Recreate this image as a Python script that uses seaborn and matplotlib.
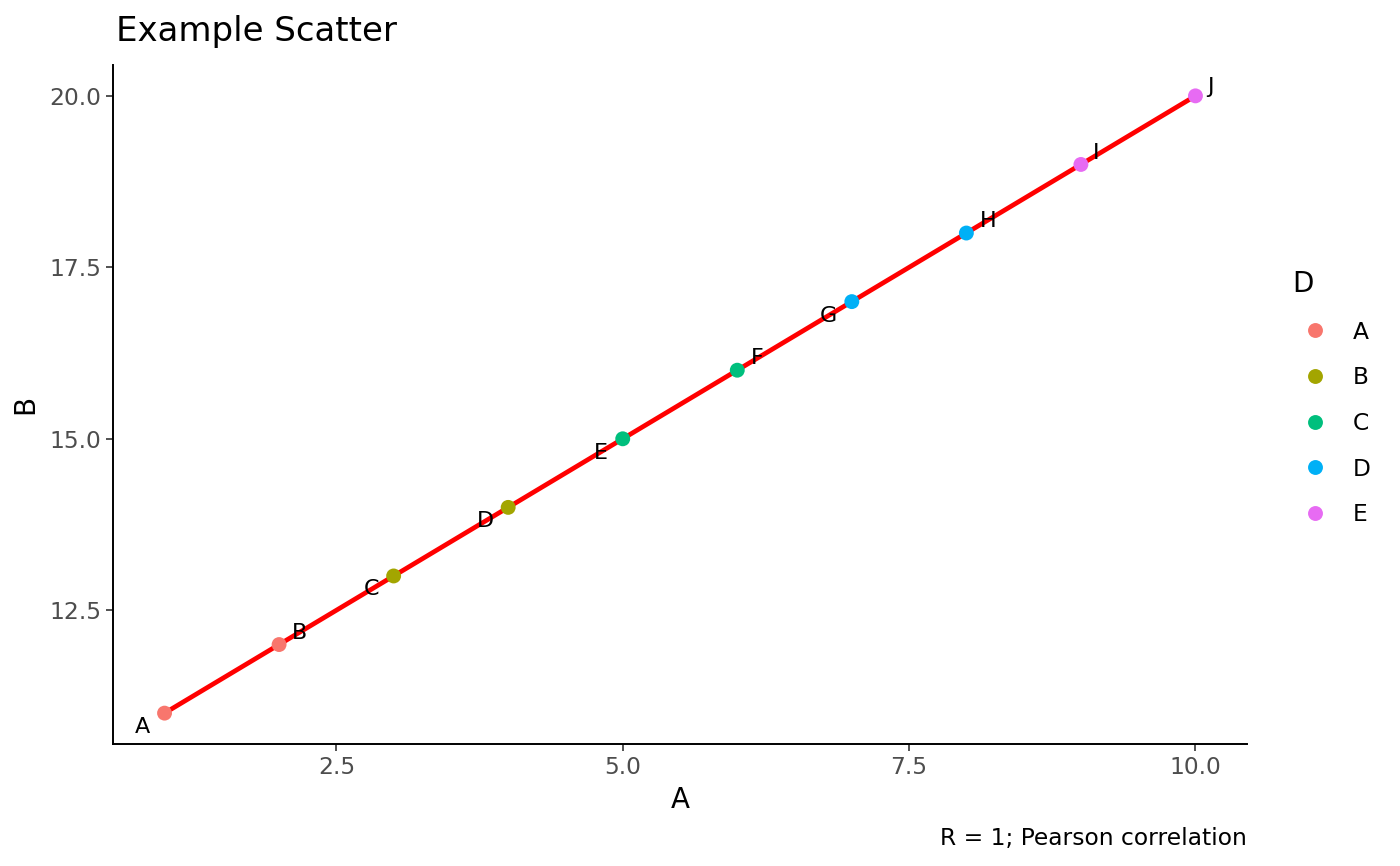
import matplotlib
matplotlib.use("Agg")
import matplotlib.pyplot as plt
import seaborn as sns
import pandas as pd

# data
a_vals = [1, 2, 3, 4, 5, 6, 7, 8, 9, 10]
b_vals = [11, 12, 13, 14, 15, 16, 17, 18, 19, 20]
point_labels = ["A", "B", "C", "D", "E", "F", "G", "H", "I", "J"]
groups = ["A", "A", "B", "B", "C", "C", "D", "D", "E", "E"]
group_levels = ["A", "B", "C", "D", "E"]
group_colors = ["#F8766D", "#A3A500", "#00BF7D", "#00B0F6", "#E76BF3"]
caption = "R = 1; Pearson correlation"

# label nudges (pixels), mimicking ggrepel placement
label_offsets = [(-22, -14), (20, 12), (-22, -13), (-23, -14), (-22, -14),
                 (20, 12), (-23, -14), (22, 12), (15, 11), (15, 9)]

fontsize_small = 16.8
fontsize_axis = 20
fontsize_title = 24.5

sns.set_style("white")
plt.rcParams["font.family"] = ["DejaVu Sans"]
plt.rcParams["text.color"] = "black"
plt.rcParams["axes.labelcolor"] = "black"

df = pd.DataFrame({"A": a_vals, "B": b_vals, "D": groups, "label": point_labels})

fig = plt.figure(figsize=(14, 8.66), dpi=100)
ax = fig.add_axes([113 / 1400, 1 - 744 / 866, (1247 - 113) / 1400, (744 - 65) / 866])

sns.regplot(data=df, x="A", y="B", scatter=False, ci=None, ax=ax,
            line_kws={"color": "#FF0000", "linewidth": 3.4, "zorder": 2})
sns.scatterplot(data=df, x="A", y="B", hue="D", hue_order=group_levels,
                palette=group_colors, s=115, linewidth=0, ax=ax, zorder=3,
                legend=True)

for x, y, lab, (dx, dy) in zip(df["A"], df["B"], df["label"], label_offsets):
    ax.annotate(lab, (x, y), xytext=(dx, dy), textcoords="offset pixels",
                ha="center", va="center", fontsize=16, color="black")

ax.set_xlim(0.55, 10.45)
ax.set_ylim(10.55, 20.45)
ax.set_xticks([2.5, 5.0, 7.5, 10.0])
ax.set_yticks([12.5, 15.0, 17.5, 20.0])
ax.set_xticklabels(["2.5", "5.0", "7.5", "10.0"])
ax.set_yticklabels(["12.5", "15.0", "17.5", "20.0"])
ax.tick_params(axis="both", labelsize=fontsize_small, labelcolor="#4D4D4D",
               length=5, width=1.2, color="#333333", direction="out",
               bottom=True, left=True, pad=3.5)

for side in ["top", "right"]:
    ax.spines[side].set_visible(False)
for side in ["left", "bottom"]:
    ax.spines[side].set_color("black")
    ax.spines[side].set_linewidth(1.4)

ax.set_xlabel("A", fontsize=fontsize_axis, labelpad=5, color="black")
ax.set_ylabel("B", fontsize=fontsize_axis, labelpad=7, color="black")
ax.set_title("Example Scatter", loc="left", fontsize=fontsize_title, pad=17,
             x=0.003, color="black")

handles, labels = ax.get_legend_handles_labels()
ax.legend_.remove()
leg = fig.legend(handles, labels, title="D", loc="upper left",
                 bbox_to_anchor=(1271 / 1400, 1 - 249 / 866), frameon=False,
                 fontsize=fontsize_small, title_fontsize=fontsize_axis,
                 labelspacing=0.97, handletextpad=0.6, alignment="left")
for t in leg.get_texts():
    t.set_color("black")
leg.get_title().set_color("black")

fig.text(1247 / 1400, 1 - 838 / 866, caption, ha="right", va="center",
         fontsize=fontsize_small, color="black")

fig.savefig("out.png", dpi=100)
